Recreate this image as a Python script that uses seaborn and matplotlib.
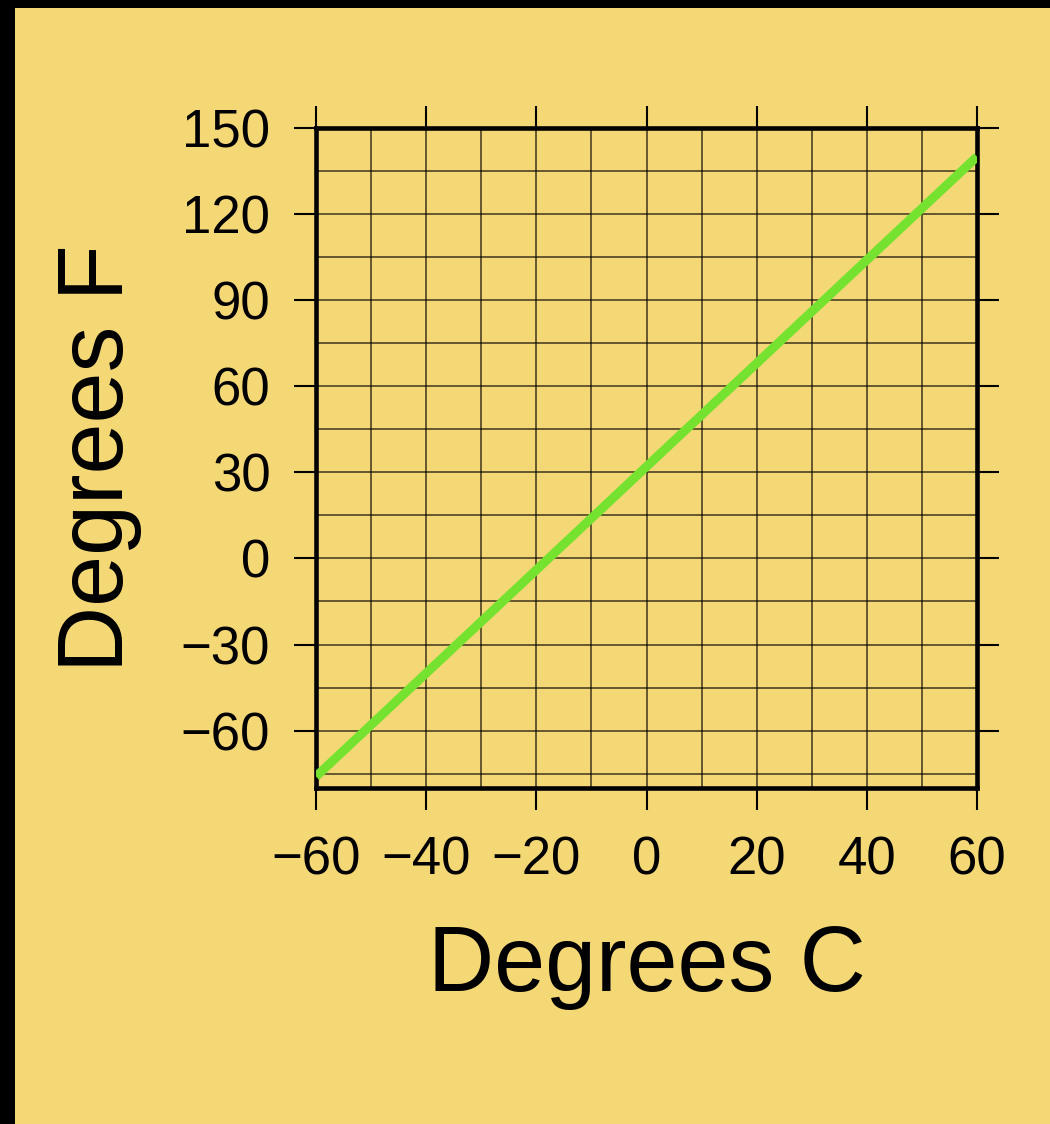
import numpy as np
import pandas as pd
import seaborn as sns
import matplotlib.pyplot as plt
from matplotlib.patches import Rectangle
from matplotlib.ticker import MultipleLocator

# Celsius -> Fahrenheit readings
celsius = [-60, -40, -20, 0, 20, 40, 60]
fahrenheit = [-76, -40, -4, 32, 68, 104, 140]
x_ticks = [-60, -40, -20, 0, 20, 40, 60]
y_ticks = [-60, -30, 0, 30, 60, 90, 120, 150]

df = pd.DataFrame({"C": celsius, "F": fahrenheit})

sns.set_theme(style="white")
plt.rcParams["font.family"] = ["Liberation Sans", "DejaVu Sans"]

paper = "#f5d876"
fig = plt.figure(figsize=(10.5, 11.24), dpi=100, facecolor="black")
fig.patches.append(Rectangle((15 / 1050, 0), 1 - 15 / 1050, 1 - 8 / 1124,
                             transform=fig.transFigure, facecolor=paper,
                             edgecolor="none", zorder=-1))

ax = fig.add_axes([316 / 1050, 1 - 788 / 1124, 661 / 1050, 660 / 1124])
ax.set_facecolor(paper)

sns.lineplot(data=df, x="C", y="F", ax=ax, color="#74e22f", linewidth=6.5,
             solid_capstyle="butt", zorder=3)

ax.set_xlim(-60, 60)
ax.set_ylim(-80, 150)
ax.set_xticks(x_ticks)
ax.set_yticks(y_ticks)
ax.xaxis.set_minor_locator(MultipleLocator(10))
ax.yaxis.set_minor_locator(MultipleLocator(15))
ax.grid(which="both", color="black", linewidth=1.1, alpha=0.75)

for s in ax.spines.values():
    s.set_color("black")
    s.set_linewidth(3.3)

ax.tick_params(which="major", direction="out", length=16, width=1.5,
               color="black", top=True, right=True, bottom=True, left=True,
               labelsize=38, labelcolor="black")
ax.tick_params(axis="x", which="major", pad=18)
ax.tick_params(axis="y", which="major", pad=17)
ax.tick_params(which="minor", length=0)

ax.set_xlabel("Degrees C", fontsize=66, color="black", labelpad=28)
ax.set_ylabel("Degrees F", fontsize=66, color="black", labelpad=28)

fig.savefig("out.png", dpi=100, facecolor=fig.get_facecolor())
